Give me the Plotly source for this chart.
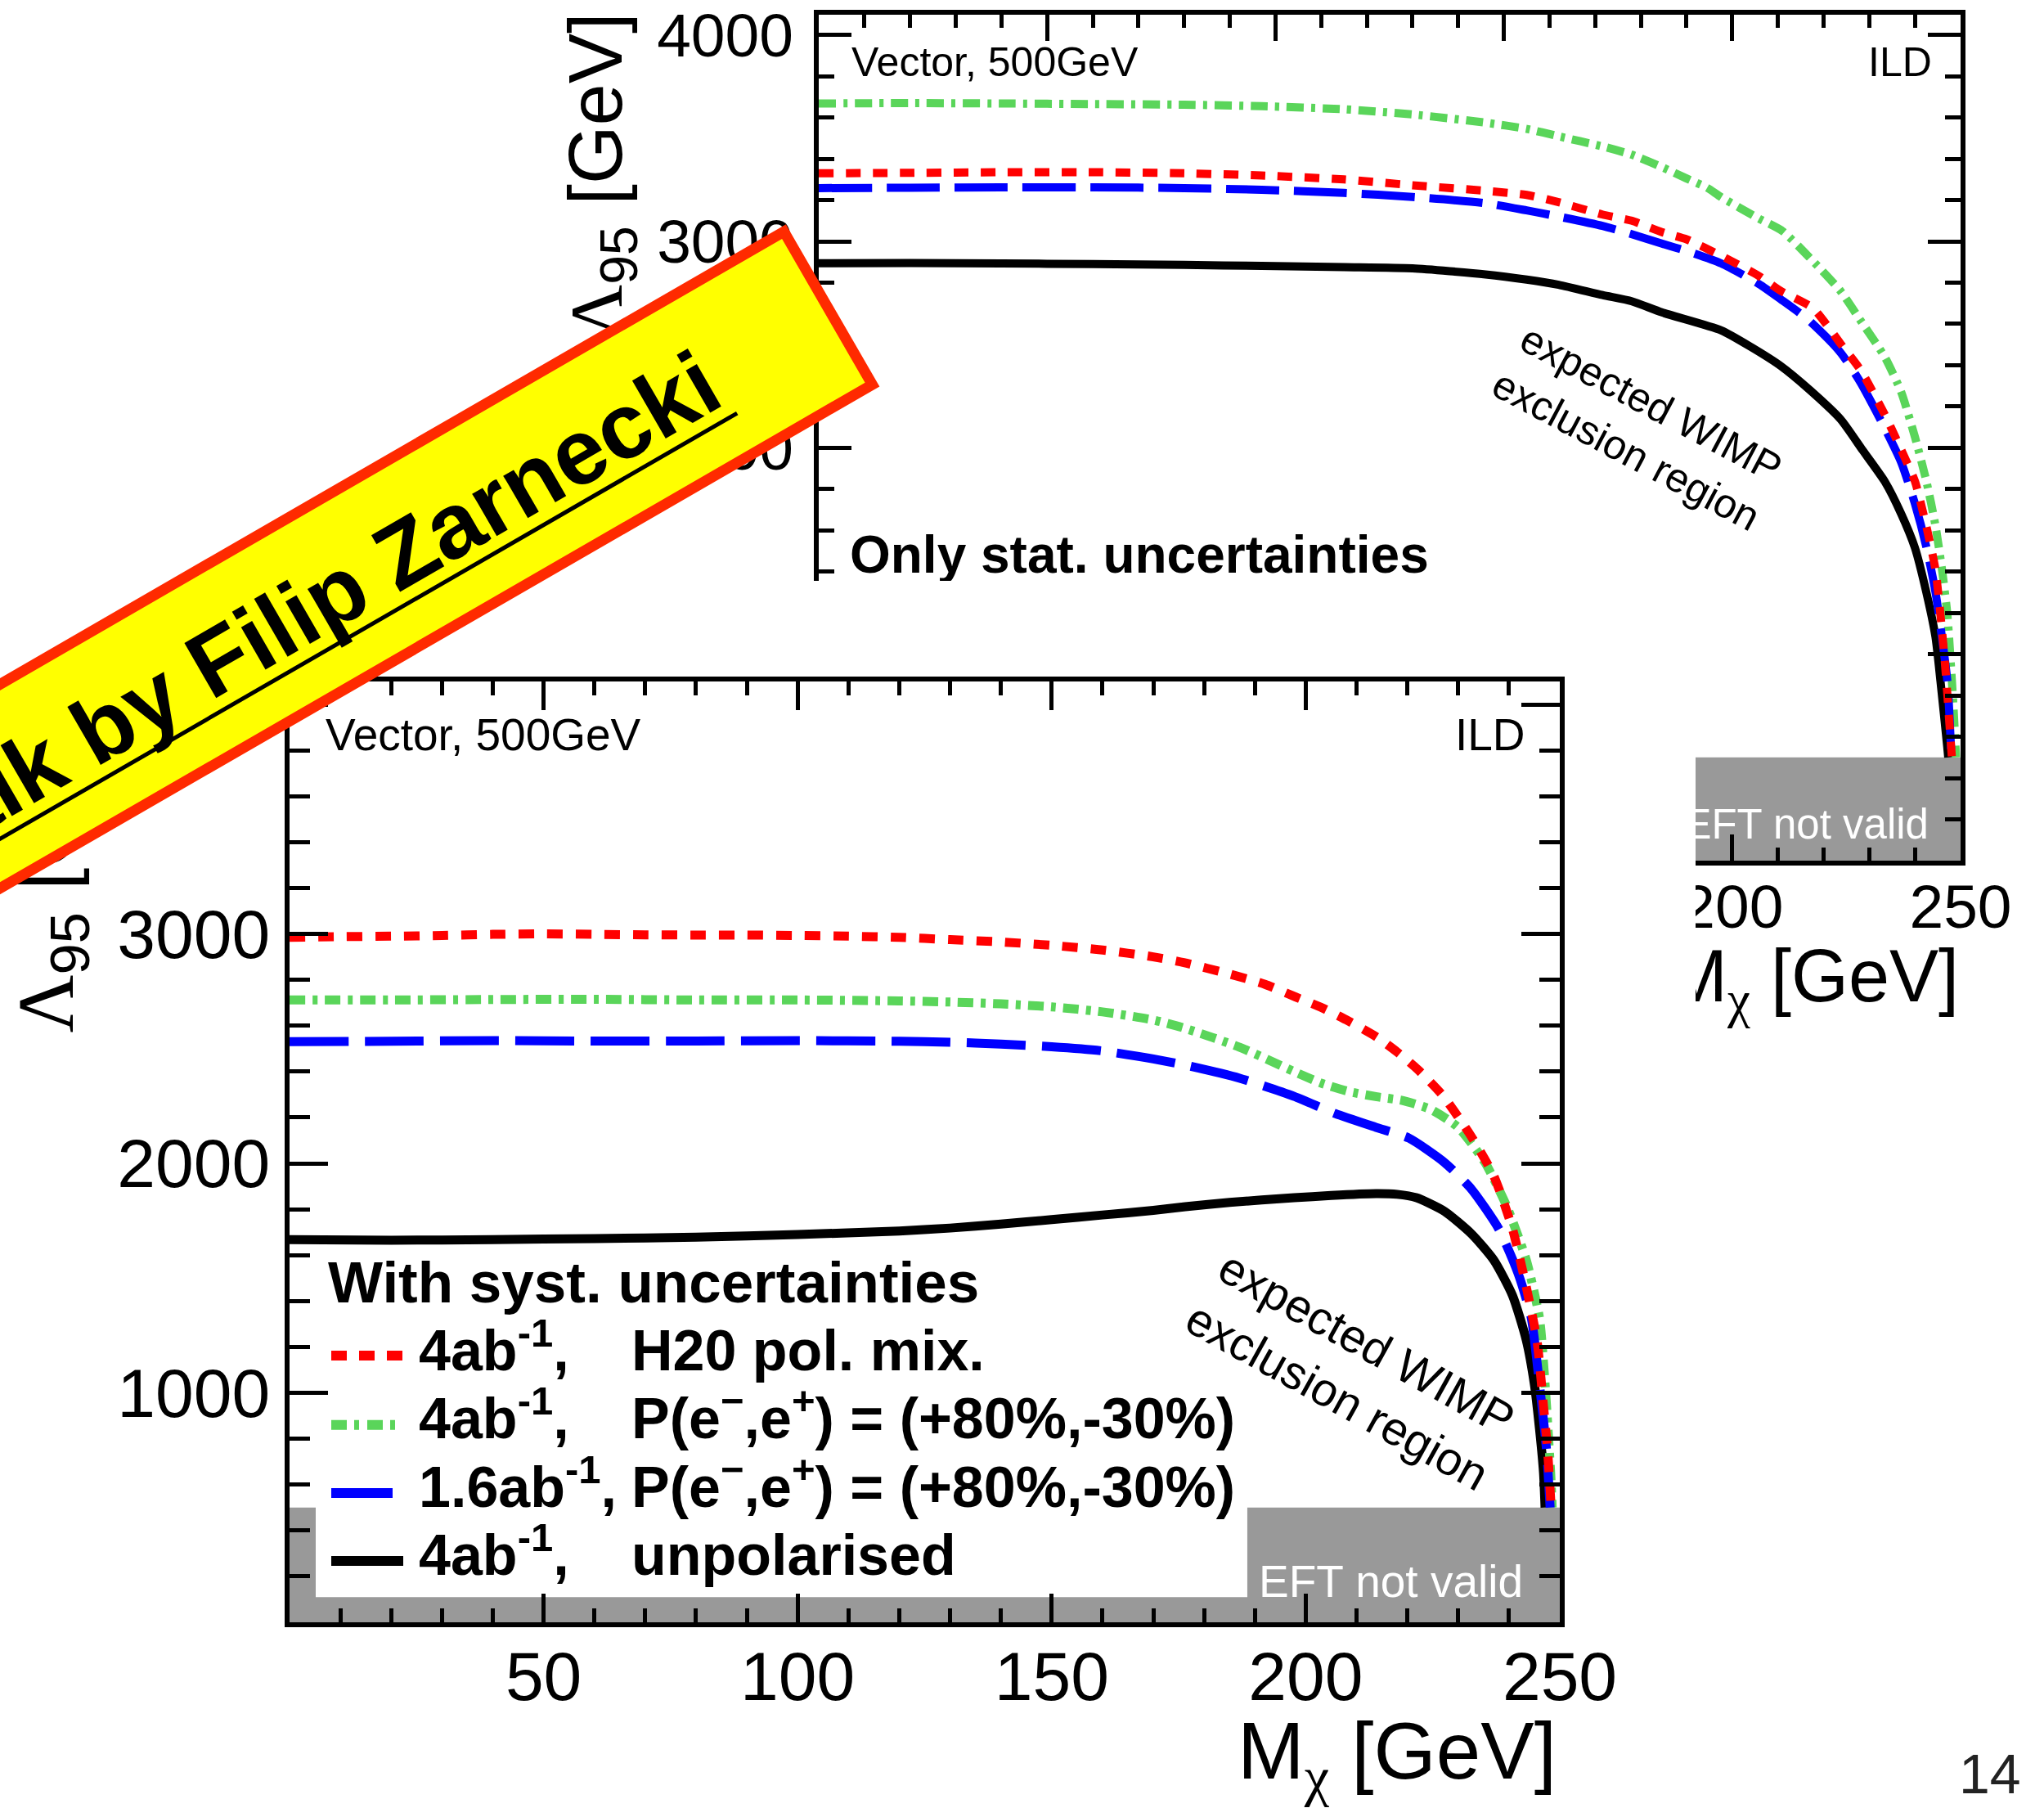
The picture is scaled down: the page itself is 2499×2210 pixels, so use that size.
import plotly.graph_objects as go

W, H = 2499, 2210
FONT = "Liberation Sans"

# ---------------- data: upper plot (only stat. uncertainties) ----------------
top_m_red = [0, 20, 40, 60, 80, 97, 115, 130, 146, 155, 162, 171.6, 178, 184.6, 190, 197.6, 205.8, 210.6,
             217.7, 223.7, 228, 233.4, 237, 240, 242.5, 244.5, 246.5, 247.8, 248.1]
top_l_red = [3330, 3332, 3335, 3335, 3330, 3319, 3300, 3272, 3245, 3225, 3190, 3130, 3100, 3045, 3010, 2930,
             2833, 2760, 2676, 2505, 2380, 2161, 1990, 1838, 1620, 1409, 978, 591, 500]

top_m_green = [0, 20, 40, 60, 80, 97, 115, 130, 146, 155, 162, 171.6, 178, 184.6, 190, 194.5, 197.6, 205.8,
               211, 217, 223.7, 228, 233.4, 237, 240, 242.5, 244.5, 246, 247.1, 248.4, 249]
top_l_green = [3668, 3670, 3668, 3665, 3662, 3655, 3640, 3615, 3575, 3545, 3509, 3460, 3420, 3360, 3305, 3260,
               3214, 3111, 3050, 2920, 2760, 2620, 2440, 2270, 2053, 1840, 1623, 1400, 1194, 762, 500]

top_m_blue = [0, 20, 40, 60, 80, 97, 115, 130, 146, 155, 162, 171.6, 178, 184.6, 190.2, 197.6, 205.8, 210.6,
              216.5, 223.7, 228, 233.4, 237, 240, 242.5, 244.5, 247.1, 247.9, 248]
top_l_blue = [3258, 3260, 3262, 3262, 3258, 3250, 3235, 3215, 3185, 3150, 3120, 3075, 3035, 2989, 2952, 2893,
              2794, 2720, 2623, 2462, 2320, 2096, 1930, 1730, 1520, 1302, 870, 548, 500]

top_m_black = [0, 20, 40, 60, 80, 97, 115, 130, 146, 155, 162, 171.6, 178, 184.6, 197.6, 204, 210.6, 217,
               223.7, 228.5, 233.4, 237, 240, 242.5, 244.5, 245.6, 247.1, 247.3]
top_l_black = [2894, 2895, 2893, 2890, 2886, 2881, 2875, 2869, 2840, 2815, 2790, 2740, 2710, 2656, 2569, 2490,
               2397, 2280, 2139, 1990, 1837, 1680, 1516, 1300, 1085, 870, 548, 500]

# ---------------- data: lower plot (with syst. uncertainties) ----------------
low_m_red = [0, 10, 20, 30, 40, 50, 60, 70, 80, 90, 100, 110, 120, 130, 140, 150, 160, 170, 176, 185, 192,
             198, 203, 208, 214, 218, 222, 227, 232.5, 237, 240.7, 243.4, 245.5, 246.8, 247.6, 248.3]
low_l_red = [2985, 2988, 2990, 2993, 2998, 3000, 2998, 2996, 2995, 2995, 2993, 2990, 2985, 2975, 2965, 2950,
             2930, 2900, 2875, 2825, 2780, 2725, 2680, 2625, 2550, 2485, 2410, 2295, 2120, 1946, 1714, 1462,
             1230, 941, 749, 500]

low_m_green = [0, 20, 40, 60, 80, 100, 120, 130, 140, 150, 160, 170, 176, 187, 197.7, 203, 208.5, 214, 219,
               224.6, 230, 235.3, 239.6, 243.4, 246, 247.1, 248.2, 248.5]
low_l_green = [2712, 2712, 2714, 2715, 2712, 2712, 2708, 2703, 2695, 2682, 2660, 2625, 2590, 2506, 2400, 2350,
               2313, 2290, 2274, 2235, 2157, 2003, 1811, 1579, 1326, 1037, 652, 500]

low_m_blue = [0, 20, 40, 60, 80, 100, 120, 130, 140, 150, 160, 170, 176.3, 187, 197.7, 205.8, 213.8, 220.3,
              227.3, 232.6, 238, 241.8, 244.4, 246, 247.4, 248.1]
low_l_blue = [2530, 2532, 2535, 2533, 2533, 2535, 2532, 2528, 2520, 2508, 2490, 2455, 2428, 2371, 2292, 2217,
              2157, 2110, 2004, 1888, 1714, 1520, 1326, 1037, 749, 500]

low_m_black = [0, 20, 40, 60, 80, 100, 120, 130, 140, 150, 160, 170, 176.3, 185, 197.7, 205, 213.8, 218,
               221.8, 227.3, 232.6, 237, 240.7, 243.4, 245, 246, 246.8, 247.1]
low_l_black = [1668, 1665, 1668, 1672, 1678, 1690, 1705, 1718, 1735, 1755, 1775, 1795, 1811, 1830, 1850, 1860,
               1868, 1865, 1850, 1791, 1693, 1579, 1424, 1230, 1037, 845, 652, 500]

x_tickvals_top = [0, 50, 100, 150, 200, 250]
y_tickvals_top = [0, 1000, 2000, 3000, 4000]
x_tickvals_low = [50, 100, 150, 200, 250]
y_tickvals_low = [1000, 2000, 3000, 4000]

legend_left = ["4ab<sup>-1</sup>,", "4ab<sup>-1</sup>,", "1.6ab<sup>-1</sup>,", "4ab<sup>-1</sup>,"]
legend_right = ["H20 pol. mix.", "P(e<sup>\u2212</sup>,e<sup>+</sup>) = (+80%,-30%)",
                "P(e<sup>\u2212</sup>,e<sup>+</sup>) = (+80%,-30%)", "unpolarised"]

RED, GREEN, BLUE, BLACK = "#FF0000", "#5AD55A", "#0000FF", "#000000"
GREY = "#999999"
XTITLE = "M<sub><span style='font-family:Liberation Serif'>\u03c7</span></sub> [GeV]"
YTITLE = "<span style='font-family:Liberation Serif'>\u039b</span><sub>95</sub> [GeV]"


def px(X):
    return X / W


def py(Y):
    return 1 - Y / H


fig = go.Figure()

# ---- upper plot (subplot xy) ----
top_styles = [
    (top_m_black, top_l_black, BLACK, "solid"),
    (top_m_green, top_l_green, GREEN, "21px,9px,5px,9px"),
    (top_m_blue, top_l_blue, BLUE, "65px,18px"),
    (top_m_red, top_l_red, RED, "18px,15px"),
]
for m, l, c, d in top_styles:
    fig.add_trace(go.Scatter(x=m, y=l, mode="lines",
                             line=dict(color=c, width=10, dash=d, shape="spline", smoothing=0.6),
                             xaxis="x", yaxis="y", showlegend=False, hoverinfo="skip"))

# texts of upper plot that are partly hidden by the lower picture
fig.add_trace(go.Scatter(x=[6.8], y=[1457], mode="text", text=["<b>Only stat. uncertainties</b>"],
                         textposition="middle right", textfont=dict(size=64, color="black", family=FONT),
                         cliponaxis=False, xaxis="x", yaxis="y", showlegend=False, hoverinfo="skip"))
fig.add_trace(go.Scatter(x=[243.0], y=[158], mode="text", text=["EFT not valid"],
                         textposition="middle left", textfont=dict(size=51, color="white", family=FONT),
                         cliponaxis=False, xaxis="x", yaxis="y", showlegend=False, hoverinfo="skip"))

# ---- upper plot x title (subplot x2y2, invisible axes, below the cover) ----
fig.add_trace(go.Scatter(x=[0.888], y=[0.454], mode="text", text=[XTITLE],
                         textposition="middle left", textfont=dict(size=90, color="black", family=FONT),
                         cliponaxis=False, xaxis="x2", yaxis="y2", showlegend=False, hoverinfo="skip"))

# ---- white cover (subplot x3y3) ----
fig.add_trace(go.Scatter(x=[0, 1, 1, 0, 0], y=[0, 0, 1, 1, 0], mode="lines", fill="toself",
                         fillcolor="white", line=dict(width=0, color="white"),
                         xaxis="x3", yaxis="y3", showlegend=False, hoverinfo="skip"))

# ---- lower plot (subplot x4y4) ----
low_styles = [
    (low_m_black, low_l_black, BLACK, "solid"),
    (low_m_green, low_l_green, GREEN, "19px,9px,6px,9px"),
    (low_m_blue, low_l_blue, BLUE, "72px,20px"),
    (low_m_red, low_l_red, RED, "19px,16px"),
]
for m, l, c, d in low_styles:
    fig.add_trace(go.Scatter(x=m, y=l, mode="lines",
                             line=dict(color=c, width=11, dash=d, shape="spline", smoothing=0.6),
                             xaxis="x4", yaxis="y4", showlegend=False, hoverinfo="skip"))


def axis(domain, rng, anchor, tickvals, ticklen, minorlen, mdtick, fsize, standoff):
    return dict(domain=domain, range=rng, anchor=anchor, showline=True, linecolor="black", linewidth=6,
                mirror="ticks", ticks="inside", ticklen=ticklen, tickwidth=5, tickcolor="black",
                tickmode="array", tickvals=tickvals, ticktext=[str(v) for v in tickvals],
                tickfont=dict(size=fsize, color="black", family=FONT),
                minor=dict(ticks="inside", dtick=mdtick, ticklen=minorlen, tickwidth=5, tickcolor="black",
                           showgrid=False),
                showgrid=False, zeroline=False, fixedrange=True, ticklabelstandoff=standoff,
                automargin=False)


def hidden(domain, anchor):
    return dict(domain=domain, range=[0, 1], anchor=anchor, visible=False, fixedrange=True, automargin=False)


fig.update_layout(
    template="none",
    width=W, height=H, autosize=False,
    margin=dict(l=0, r=0, t=0, b=0, pad=0, autoexpand=False),
    paper_bgcolor="white", plot_bgcolor="white",
    font=dict(family=FONT, color="black"),
    showlegend=False, hovermode=False,
    xaxis=axis([px(1001), px(2397)], [0, 250], "y", x_tickvals_top, 32, 16, 10, 75, -14),
    yaxis=axis([py(1052), py(17.5)], [0, 4100], "x", y_tickvals_top, 40, 19, 200, 75, 10),
    xaxis2=hidden([px(1880), px(2460)], "y2"),
    yaxis2=hidden([py(1270), py(1120)], "x2"),
    xaxis3=hidden([0, px(2073)], "y3"),
    yaxis3=hidden([0, py(710)], "x3"),
    xaxis4=axis([px(354), px(1907)], [0, 250], "y4", x_tickvals_low, 35, 17, 10, 84, -12),
    yaxis4=axis([py(1983), py(833)], [0, 4100], "x4", y_tickvals_low, 47, 25, 200, 84, 1),
)

# ---- shapes ----
shapes = [
    dict(type="rect", xref="x", yref="y", x0=0, x1=250, y0=0, y1=500, fillcolor=GREY,
         line=dict(width=0), layer="below"),
    dict(type="rect", xref="x4", yref="y4", x0=0, x1=250, y0=0, y1=500, fillcolor=GREY,
         line=dict(width=0), layer="below"),
    dict(type="rect", xref="x4", yref="y4", x0=5.15, x1=188.5, y0=110, y1=1615, fillcolor="white",
         line=dict(width=0), layer="below"),
]
legend_y = [1657, 1741.7, 1825, 1908]
legend_style = [(RED, "19px,15px"), (GREEN, "19px,9px,6px,10px"), (BLUE, "75px,20px"), (BLACK, "solid")]
for yy, (c, d) in zip(legend_y, legend_style):
    shapes.append(dict(type="line", xref="paper", yref="paper", x0=px(405), x1=px(493), y0=py(yy), y1=py(yy),
                       line=dict(color=c, width=12, dash=d), layer="above"))
fig.update_layout(shapes=shapes)


# ---- annotations ----
def ann(text, X, Y, size, xanchor="left", yanchor="bottom", color="black", angle=0, family=FONT, **kw):
    d = dict(text=text, x=px(X), y=py(Y), xref="paper", yref="paper", xanchor=xanchor, yanchor=yanchor,
             showarrow=False, font=dict(size=size, color=color, family=family), textangle=angle,
             borderpad=0, borderwidth=0)
    d.update(kw)
    return d


anns = []
# upper plot texts
anns.append(ann("Vector, 500GeV", 1041, 103.6, 50))
anns.append(ann("ILD", 2362, 103.6, 50, xanchor="right"))
anns.append(ann("expected WIMP<br>exclusion region", 2003, 521, 50, xanchor="center", yanchor="middle",
                angle=28, align="center"))
anns.append(ann(YTITLE, 735, 16, 92, xanchor="center", yanchor="top", angle=-90))
# lower plot texts
anns.append(ann("Vector, 500GeV", 398, 928.7, 55))
anns.append(ann("ILD", 1865, 928.7, 55, xanchor="right"))
anns.append(ann("expected WIMP<br>exclusion region", 1653, 1674, 57, xanchor="center", yanchor="middle",
                angle=29, align="center"))
anns.append(ann("EFT not valid", 1862, 1963.7, 55, xanchor="right", color="white"))
anns.append(ann("<b>With syst. uncertainties</b>", 401, 1606.8, 71))
legend_base = [1675, 1758.3, 1841.7, 1925]
for yb, lt, rt in zip(legend_base, legend_left, legend_right):
    anns.append(ann("<b>" + lt + "</b>", 512, yb + 14.8, 70))
    anns.append(ann("<b>" + rt + "</b>", 772, yb + 14.8, 70))
anns.append(ann(XTITLE, 1903, 2084.5, 98, xanchor="right", yanchor="top"))
anns.append(ann(YTITLE, 62, 838, 98, xanchor="center", yanchor="top", angle=-90))
# page number
anns.append(ann("14", 2471, 2206, 68, xanchor="right", color="#222222"))
# banner box (topmost)
anns.append(dict(text="\u00a0", x=px(366.6), y=py(749.7), xref="paper",
                 yref="paper", xanchor="center", yanchor="middle", showarrow=False,
                 font=dict(size=20, color="black", family=FONT), textangle=-30,
                 bgcolor="#FFFF00", bordercolor="#FF2A00", borderwidth=13, borderpad=0,
                 width=1478, height=203))
# banner text
anns.append(dict(text="<b>Talk by Filip Zarnecki</b>", x=px(375.7), y=py(744.45), xref="paper",
                 yref="paper", xanchor="center", yanchor="middle", showarrow=False,
                 font=dict(size=113, color="black", family=FONT), textangle=-30,
                 borderwidth=0, borderpad=0))
# thin underline of the banner text
anns.append(dict(text="\u00a0", x=px(403.2), y=py(792.1), xref="paper", yref="paper",
                 xanchor="center", yanchor="middle", showarrow=False, font=dict(size=2, color="black"),
                 textangle=-30, bgcolor="black", borderwidth=0, borderpad=0, width=1149, height=5))
fig.update_layout(annotations=anns)

fig.write_html("out.html")
